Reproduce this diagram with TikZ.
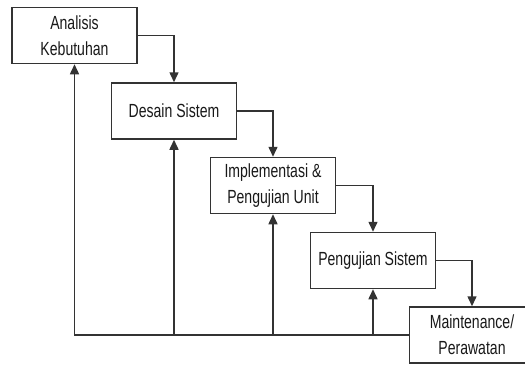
\documentclass[tikz,border=0pt]{standalone}
\usepackage{fontspec}
\setmainfont{Liberation Sans}[FakeStretch=0.74]
\usetikzlibrary{arrows.meta}

\tikzset{
  fase/.style={draw=black!80, line width=1.5pt, fill=white, align=center,
    minimum width=125pt, minimum height=56pt, inner sep=0pt,
    text=black!90, font=\fontsize{19}{26}\selectfont},
  alur/.style={draw=black!80, line width=1.5pt, -{Triangle[length=10pt,width=9pt]}}
}

\begin{document}
\begin{tikzpicture}[x=1pt,y=-1pt]
\useasboundingbox (0,0) rectangle (525,367);
\node[fase] (analisis) at (74.5,35.5) {Analisis\\Kebutuhan};
\node[fase] (desain) at (174,111) {Desain Sistem};
\node[fase] (impl) at (273,185.5) {Implementasi \&\\Pengujian Unit};
\node[fase] (uji) at (373,260.5) {Pengujian Sistem};
\node[fase] (maint) at (472,335) {Maintenance/\\Perawatan};
% alur ke bawah
\draw[alur] (analisis.east) -| (desain.north);
\draw[alur] (desain.east) -| (impl.north);
\draw[alur] (impl.east) -| (uji.north);
\draw[alur] (uji.east) -| (maint.north);
% umpan balik
\draw[alur] (maint.west) -- (analisis.south |- maint.west) -- (analisis.south);
\draw[alur] (desain.south |- maint.west) -- (desain.south);
\draw[alur] (impl.south |- maint.west) -- (impl.south);
\draw[alur] (uji.south |- maint.west) -- (uji.south);
\end{tikzpicture}
\end{document}
